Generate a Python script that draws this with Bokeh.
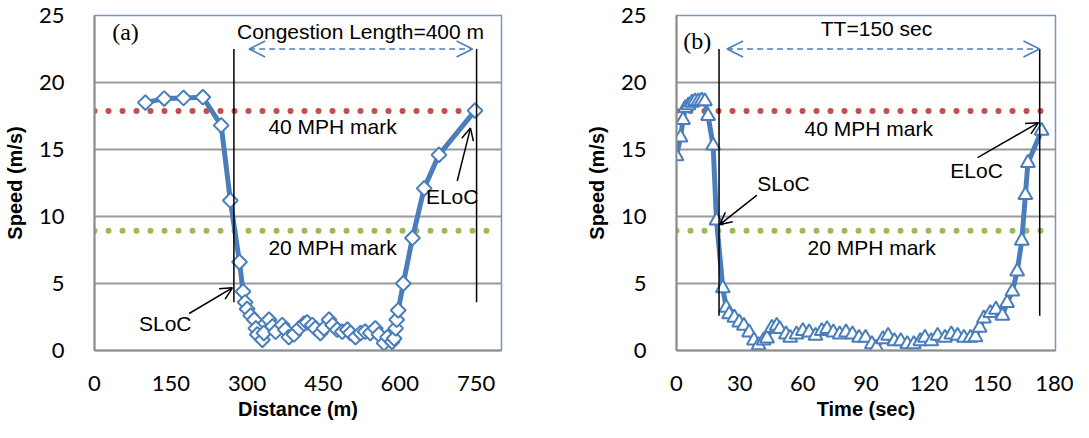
from bokeh.plotting import figure
from bokeh.layouts import row
from bokeh.models import Arrow, OpenHead, Label, FixedTicker
from bokeh.core.properties import value
from bokeh.embed import file_html
from bokeh.resources import INLINE

# ---------------- data ----------------
dist_a = [100, 137, 175, 213, 249, 267, 285, 292, 296, 300,
          307, 314, 317, 320, 330, 333, 343, 350, 356, 369,
          375, 382, 392, 402, 412, 418, 428, 434, 444, 451,
          461, 468, 477, 487, 497, 503, 513, 523, 532, 542,
          552, 559, 569, 576, 585, 589, 592, 594, 597, 607,
          625, 648, 677, 748]
speed_a = [18.5, 18.8, 18.85, 18.9, 16.8, 11.2, 6.6, 4.4, 3.6, 3.1,
           2.6, 2.3, 1.65, 1.2, 0.8, 1.3, 2.3, 1.8, 1.4, 1.9,
           1.55, 1.0, 1.2, 1.65, 2.0, 2.1, 1.9, 1.65, 1.3, 1.65,
           2.3, 1.9, 1.55, 1.4, 1.55, 1.3, 1.0, 1.3, 1.4, 1.3,
           1.65, 1.2, 0.55, 1.0, 0.65, 0.9, 1.65, 2.3, 3.0, 5.0,
           8.4, 12.1, 14.6, 17.9]

time_b = [0, 1.9, 3.1, 4.2, 5.7, 7.3, 8.8, 10.4, 12, 13.5,
          15, 17.4, 19, 22, 23.6, 25, 27.5, 29.8, 32, 34.5,
          36.8, 39, 41.4, 43, 45.3, 47.6, 49, 52, 54, 57,
          60, 63, 66, 69, 71.5, 74.5, 77.5, 80.5, 83.6, 86.7,
          89.8, 92.8, 95, 98, 100.5, 103.5, 106.5, 109.6, 112.7, 115.8,
          118, 121, 124, 127.5, 130.5, 133.5, 136.5, 139.6, 142, 144,
          146, 149, 151.7, 154.8, 157, 159.5, 161.8, 164, 165.7, 166.9,
          173.4]
speed_b = [14.5, 15.9, 17.2, 18.1, 18.3, 18.5, 18.6, 18.6, 18.65, 18.6,
           17.5, 15.3, 9.7, 4.65, 3.2, 2.7, 2.45, 2.1, 1.85, 1.35,
           0.75, 0.4, 0.75, 0.9, 1.7, 1.85, 1.6, 1.2, 0.95, 1.2,
           1.45, 1.35, 1.1, 1.45, 1.6, 1.35, 1.2, 1.35, 1.2, 0.95,
           0.95, 0.47, 0.22, 0.85, 1.1, 0.7, 0.7, 0.47, 0.47, 0.7,
           0.95, 0.7, 1.1, 0.95, 1.2, 1.1, 0.95, 0.95, 1.0, 1.7,
           2.4, 2.8, 3.05, 2.6, 3.55, 4.4, 5.9, 8.2, 11.6, 14.0,
           16.4]

mph40 = 17.88
mph20 = 8.94
y_ticks = [0, 5, 10, 15, 20, 25]
x_ticks_a = [0, 150, 300, 450, 600, 750]
x_ticks_b = [0, 30, 60, 90, 120, 150, 180]

# annotation positions (data units)
sloc_a, eloc_a = 274, 751
sloc_b, eloc_b = 20.2, 172.5

BLUE = "#4a7ebb"
RED = "#c0504d"
GREEN = "#9bbb59"
GRAY = "#8c8c8c"
TXT = "Liberation Sans"


def style(p, xticks, xlabel):
    p.outline_line_color = "#6f97c8"
    p.outline_line_width = 1.5
    p.xgrid.grid_line_color = None
    p.ygrid.grid_line_color = "#9a9a9a"
    p.ygrid.grid_line_width = 2
    p.yaxis.ticker = FixedTicker(ticks=y_ticks)
    p.xaxis.ticker = FixedTicker(ticks=xticks)
    for ax in (p.xaxis[0], p.yaxis[0]):
        ax.axis_line_color = GRAY
        ax.axis_line_width = 2
        ax.major_tick_line_color = None
        ax.minor_tick_line_color = None
        ax.major_label_text_font = "Lato"
        ax.major_label_text_font_size = "22px"
        ax.major_label_text_color = "black"
        ax.axis_label_text_font = TXT
        ax.axis_label_text_font_style = "bold"
        ax.axis_label_text_font_size = "20px"
        ax.axis_label_text_color = "black"
    p.xaxis.major_label_standoff = 19
    p.yaxis.major_label_standoff = 24
    p.xaxis.axis_label = xlabel
    p.yaxis.axis_label = "Speed (m/s)"
    p.xaxis.axis_label_standoff = 4
    p.yaxis.axis_label_standoff = 10


def label(p, x, y, text, font=TXT, size="21px"):
    p.add_layout(Label(x=x, y=y, text=text, text_font=font, text_font_size=size,
                       text_align="center", text_baseline="middle", text_color="black"))


def arrow(p, x0, y0, x1, y1, color="black", dash="solid", both=False, size=12, w=1.5):
    kw = {}
    if both:
        kw["start"] = OpenHead(size=size, line_color=color, line_width=w)
    p.add_layout(Arrow(end=OpenHead(size=size, line_color=color, line_width=w),
                       x_start=x0, y_start=y0, x_end=x1, y_end=y1,
                       line_color=color, line_width=w, line_dash=dash, **kw))


# ---------------- panel (a) ----------------
pa = figure(width=548, height=422, x_range=(0, 800), y_range=(0, 25),
            output_backend="svg", toolbar_location=None,
            min_border_left=92, min_border_right=47, min_border_top=15, min_border_bottom=72)
style(pa, x_ticks_a, "Distance (m)")
pa.line([0, 760], [mph40, mph40], line_color=RED, line_width=6, line_dash="0 14", line_cap="round")
pa.line([0, 790], [mph20, mph20], line_color=GREEN, line_width=6, line_dash="0 14", line_cap="round")
pa.line(dist_a, speed_a, line_color=BLUE, line_width=5)
pa.scatter(dist_a, speed_a, marker="square", angle=0.785398, size=10.5,
           fill_color="white", line_color=BLUE, line_width=2)
pa.segment(x0=[sloc_a, eloc_a], y0=[3.6, 3.6], x1=[sloc_a, eloc_a], y1=[22.5, 22.5],
           line_color="black", line_width=1.5)
arrow(pa, 304, 22.5, 743, 22.5, color=BLUE, dash="6 4", both=True, size=16)
arrow(pa, 186, 2.76, 271, 4.68, size=12)
arrow(pa, 713, 12.65, 739, 16.6, size=12)
label(pa, 61, 23.8, "(a)", font="Liberation Serif", size="24px")
label(pa, 523, 23.8, "Congestion Length=400 m")
label(pa, 468, 16.7, "40 MPH mark")
label(pa, 468, 7.7, "20 MPH mark")
label(pa, 139, 2.0, "SLoC")
label(pa, 703, 11.5, "ELoC")

# ---------------- panel (b) ----------------
pb = figure(width=525, height=422, x_range=(0, 180), y_range=(0, 25),
            output_backend="svg", toolbar_location=None,
            min_border_left=128, min_border_right=18, min_border_top=15, min_border_bottom=72)
style(pb, x_ticks_b, "Time (sec)")
pb.line([0, 174], [mph40, mph40], line_color=RED, line_width=6, line_dash="0 14", line_cap="round")
pb.line([0, 174], [mph20, mph20], line_color=GREEN, line_width=6, line_dash="0 14", line_cap="round")
pb.line(time_b, speed_b, line_color=BLUE, line_width=5)
pb.scatter(time_b, speed_b, marker="triangle", size=14,
           fill_color="white", line_color=BLUE, line_width=2)
pb.segment(x0=[sloc_b, eloc_b], y0=[2.6, 2.6], x1=[sloc_b, eloc_b], y1=[22.5, 22.5],
           line_color="black", line_width=1.5)
arrow(pb, 24, 22.5, 172.4, 22.5, color=BLUE, dash="6 4", both=True, size=16)
arrow(pb, 38.2, 11.6, 20.5, 9.4, size=12)
arrow(pb, 143, 14.4, 171.9, 17.0, size=12)
label(pb, 9.8, 23.1, "(b)", font="Liberation Serif", size="24px")
label(pb, 95, 24.0, "TT=150 sec")
label(pb, 91.3, 16.6, "40 MPH mark")
label(pb, 92.7, 7.7, "20 MPH mark")
label(pb, 50.8, 12.5, "SLoC")
label(pb, 142.5, 13.4, "ELoC")

layout = row(pa, pb)
open("out.html", "w").write(file_html(layout, INLINE))
